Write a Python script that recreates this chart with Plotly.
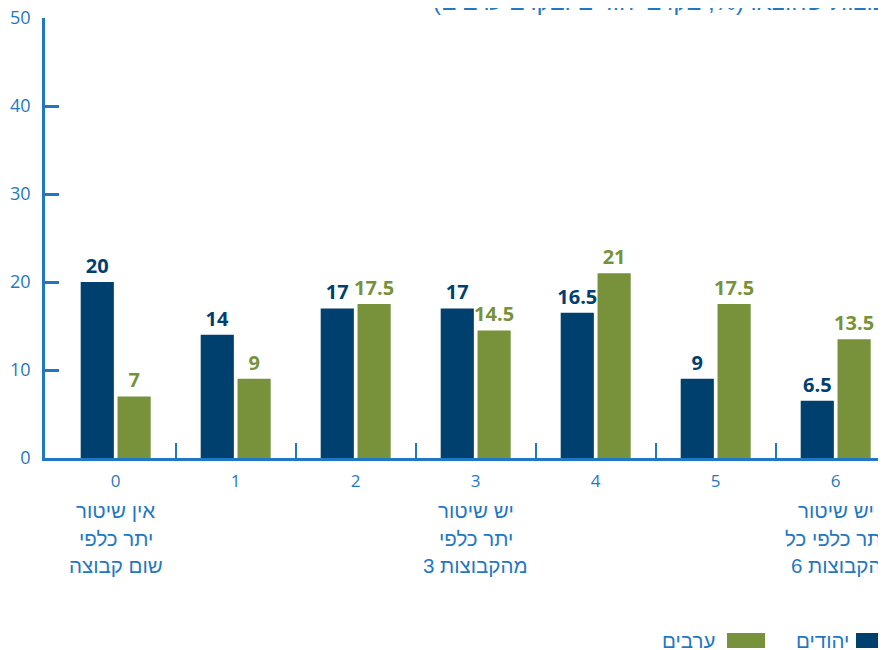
import plotly.graph_objects as go

# ---- data ----
categories = [0, 1, 2, 3, 4, 5, 6]
tick_labels = ["0", "1", "2", "3", "4", "5", "6"]
category_notes = {
    0: ["אין שיטור", "יתר כלפי", "שום קבוצה"],
    3: ["יש שיטור", "יתר כלפי", "3 מהקבוצות"],
    6: ["יש שיטור", "יתר כלפי כל", "6 הקבוצות"],
}
series_names = ["יהודים", "ערבים"]
jews = [20, 14, 17, 17, 16.5, 9, 6.5]
arabs = [7, 9, 17.5, 14.5, 21, 17.5, 13.5]
y_ticks = [0, 10, 20, 30, 40, 50]
title_text = "התפלגות מספר הקבוצות שהוצאו (%, בקרב יהודים ובקרב ערבים)"

# ---- style ----
BLUE = "#00406f"
GREEN = "#77923b"
AXIS = "#1f78c1"
FONT = "Open Sans, DejaVu Sans, sans-serif"
HEB = "Liberation Sans, DejaVu Sans, sans-serif"

OFF = 8  # page body margin (window px = figure px + OFF)
W, H = 878, 642
ML, MR, MT, MB = 37, 0, 10, 192
PW = W - ML - MR
PH = H - MT - MB
CAT0 = 115.7 - OFF  # figure px of category-0 centre
STEP = 120.0
x_range = [(ML - CAT0) / STEP, (W - MR - CAT0) / STEP]


def px_x(p):  # window pixel -> paper fraction
    return (p - OFF - ML) / PW


def px_y(p):
    return (H - MB - (p - OFF)) / PH


fig = go.Figure()
for name, vals, col in [(series_names[0], jews, BLUE), (series_names[1], arabs, GREEN)]:
    fig.add_trace(go.Bar(
        x=categories, y=vals, name=name,
        marker=dict(color=col, line=dict(width=0)),
        text=[f"{v:g}" for v in vals],
        textposition="outside",
        constraintext="none",
        textfont=dict(family=FONT, size=20, color=col, weight="bold"),
        cliponaxis=False,
    ))

annotations = []
for cat, lines in category_notes.items():
    for i, line in enumerate(lines):
        annotations.append(dict(
            x=cat, xref="x", y=0, yref="paper", yanchor="middle", xanchor="center",
            yshift=-(52.5 + 27.5 * i), text=line, showarrow=False,
            font=dict(family=HEB, size=20.5, color=AXIS),
        ))
annotations.append(dict(
    x=px_x(431), xref="paper", y=px_y(17.5), yref="paper", xanchor="left", yanchor="bottom",
    text=title_text, showarrow=False, font=dict(family=HEB, size=24, color=AXIS),
))

shapes = []
legend_items = [(series_names[0], BLUE, 856, 851), (series_names[1], GREEN, 727, 717)]
for name, col, sx, tx in legend_items:
    shapes.append(dict(type="rect", xref="paper", yref="paper",
                       x0=px_x(sx), x1=px_x(sx + 38), y0=px_y(648), y1=px_y(633),
                       fillcolor=col, line=dict(width=0)))
    annotations.append(dict(
        x=px_x(tx), xref="paper", y=px_y(640), yref="paper", xanchor="right", yanchor="middle",
        text=name, showarrow=False, font=dict(family=HEB, size=20.5, color=AXIS),
    ))

fig.update_layout(
    width=W, height=H,
    margin=dict(l=ML, r=MR, t=MT, b=MB, pad=0),
    paper_bgcolor="white", plot_bgcolor="white",
    barmode="group", bargap=0.386, bargroupgap=0.1,
    showlegend=False,
    font=dict(family=FONT, color=AXIS),
    annotations=annotations, shapes=shapes,
    xaxis=dict(
        range=x_range, tickmode="array", tickvals=categories, ticktext=tick_labels,
        ticks="", showgrid=False, zeroline=False, automargin=False,
        showline=True, linecolor=AXIS, linewidth=2.5,
        tickfont=dict(family=FONT, size=17, color=AXIS),
        ticklabelstandoff=6, ticklabeloverflow="allow",
        minor=dict(tickvals=[c + 0.5 for c in categories[:-1]], ticks="inside",
                   ticklen=15, tickwidth=2, tickcolor=AXIS, showgrid=False),
    ),
    yaxis=dict(
        range=[0, 50], tickmode="array", tickvals=y_ticks,
        ticks="inside", ticklen=14, tickwidth=2.5, tickcolor=AXIS,
        showgrid=False, zeroline=False, automargin=False,
        showline=True, linecolor=AXIS, linewidth=2.5,
        tickfont=dict(family=FONT, size=18, color=AXIS),
        ticklabelstandoff=8, ticklabeloverflow="allow",
    ),
)

fig.write_html("out.html")
